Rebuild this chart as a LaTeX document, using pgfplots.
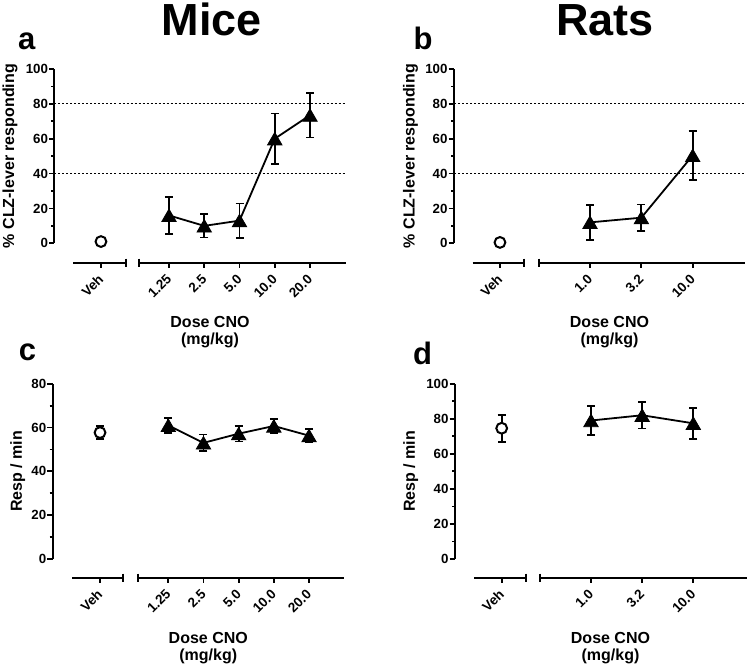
\documentclass[border=0pt]{standalone}
\usepackage{pgfplots}
\pgfplotsset{compat=1.18}
\usepackage{fontspec}
\setmainfont{Liberation Sans}

\newcommand\tkfont{\fontsize{13.3}{13.3}\selectfont\bfseries}
\newcommand\xtkfont{\fontsize{13.5}{13.5}\selectfont\bfseries}
\newcommand\labfont{\fontsize{16}{16}\selectfont\bfseries}

\pgfplotsset{
  panel/.style={
    scale only axis, clip=false,
    axis y line*=left, axis x line=none,
    ymin=0, ytick distance=20, minor y tick num=1,
    tick align=outside, major tick length=5.3pt, minor tick length=3pt,
    every tick/.style={black, line width=1.8pt},
    axis line style={line width=2pt, black},
    /pgf/number format/assume math mode=true,
    yticklabel style={font=\tkfont, inner sep=0pt, xshift=-1pt},
    ylabel style={font=\labfont, anchor=center},
  },
  ebar/.style={
    /pgfplots/error bars/y dir=both,
    /pgfplots/error bars/y explicit,
    /pgfplots/error bars/error bar style={line width=1.8pt, black, solid},
    /pgfplots/error bars/error mark options={rotate=90, mark size=4pt, line width=1.8pt, black},
  },
  dose/.style={black, line width=1.8pt, mark=triangle*, mark size=8.3pt,
    mark options={solid, fill=black, line width=0.8pt, yshift=-2pt}, ebar},
  veh/.style={black, only marks, mark=*, mark size=5.4pt,
    mark options={fill=white, draw=black, line width=2pt}},
  crit/.style={black, line width=0.8pt, dash pattern=on 2pt off 2pt, forget plot},
}

% broken x axis: offset, l1, l2, r1, r2
\newcommand\xline[5]{%
  \draw[line width=2pt] ([yshift=-#1]axis cs:#2,0) -- ([yshift=-#1]axis cs:#3,0);
  \draw[line width=2pt] ([yshift=-#1]axis cs:#4,0) -- ([yshift=-#1]axis cs:#5,0);
  \draw[line width=1.8pt] ([yshift=-#1+4pt]axis cs:#3,0) -- ([yshift=-#1-4pt]axis cs:#3,0);
  \draw[line width=1.8pt] ([yshift=-#1+4pt]axis cs:#4,0) -- ([yshift=-#1-4pt]axis cs:#4,0);
}
% tick: offset, x, label
\newcommand\xtk[3]{%
  \draw[line width=1.8pt] ([yshift=-#1]axis cs:#2,0) -- ([yshift=-#1-5.5pt]axis cs:#2,0);
  \node[rotate=45, anchor=east, inner sep=0pt, font=\xtkfont] at ([yshift=-#1-14pt]axis cs:#2,0) {#3};
}

\begin{document}
\begin{tikzpicture}
\useasboundingbox (0pt,0pt) rectangle (750pt,670pt);

% titles and panel letters
\node[anchor=base, inner sep=0pt, font=\fontsize{45}{45}\selectfont\bfseries] at (212pt,634pt) {Mice};
\node[anchor=base, inner sep=0pt, font=\fontsize{45}{45}\selectfont\bfseries] at (605pt,634pt) {Rats};
\node[anchor=base, inner sep=0pt, font=\fontsize{31}{31}\selectfont\bfseries] at (26.7pt,620pt) {a};
\node[anchor=base, inner sep=0pt, font=\fontsize{31}{31}\selectfont\bfseries] at (423pt,620pt) {b};
\node[anchor=base, inner sep=0pt, font=\fontsize{31}{31}\selectfont\bfseries] at (27.5pt,309pt) {c};
\node[anchor=base, inner sep=0pt, font=\fontsize{31}{31}\selectfont\bfseries] at (422.5pt,305pt) {d};

% x axis titles
\node[anchor=base, inner sep=0pt, font=\labfont] at (210pt,342.7pt) {Dose CNO};
\node[anchor=base, inner sep=0pt, font=\labfont] at (210pt,325.7pt) {(mg/kg)};
\node[anchor=base, inner sep=0pt, font=\labfont] at (609.5pt,342.7pt) {Dose CNO};
\node[anchor=base, inner sep=0pt, font=\labfont] at (609.5pt,325.7pt) {(mg/kg)};
\node[anchor=base, inner sep=0pt, font=\labfont] at (208.3pt,26.7pt) {Dose CNO};
\node[anchor=base, inner sep=0pt, font=\labfont] at (208.3pt,9.7pt) {(mg/kg)};
\node[anchor=base, inner sep=0pt, font=\labfont] at (610.5pt,26.7pt) {Dose CNO};
\node[anchor=base, inner sep=0pt, font=\labfont] at (610.5pt,9.7pt) {(mg/kg)};

% ---------- panel a ----------
\begin{axis}[panel, at={(54.5pt,426.7pt)}, anchor=south west,
  width=291.5pt, height=174.3pt, xmin=-2.248, xmax=6.021, ymax=100,
  ylabel={\% CLZ-lever responding},
  ylabel style={at={(axis description cs:-0.1527,0.5)}}]
\addplot[crit] coordinates {(-2.248,80) (6.021,80)};
\addplot[crit] coordinates {(-2.248,40) (6.021,40)};
\addplot[dose] table[x=x, y=y, y error=e] {
x y e
1 16 10.7
2 10 6.7
3 13 9.8
4 60 14.5
5 73.5 12.8
};
\addplot[veh] table[x=x, y=y] {
x y
-0.93 1
};
\xline{19.4pt}{-1.715}{-0.228}{0.157}{6.021}
\xtk{19.4pt}{-0.93}{Veh}
\xtk{19.4pt}{1}{1.25}
\xtk{19.4pt}{2}{2.5}
\xtk{19.4pt}{3}{5.0}
\xtk{19.4pt}{4}{10.0}
\xtk{19.4pt}{5}{20.0}
\end{axis}

% ---------- panel b ----------
\begin{axis}[panel, at={(454pt,426.7pt)}, anchor=south west,
  width=291pt, height=174.3pt, xmin=-1.648, xmax=4.018, ymax=100,
  ylabel={\% CLZ-lever responding},
  ylabel style={at={(axis description cs:-0.1495,0.5)}}]
\addplot[crit] coordinates {(-1.648,80) (4.018,80)};
\addplot[crit] coordinates {(-1.648,40) (4.018,40)};
\addplot[dose] table[x=x, y=y, y error=e] {
x y e
1 12 9.9
2 14.7 7.6
3 50.4 14.2
};
\addplot[veh] table[x=x, y=y] {
x y
-0.753 0.5
};
\xline{19.4pt}{-1.284}{-0.279}{0.0}{4.018}
\xtk{19.4pt}{-0.753}{Veh}
\xtk{19.4pt}{1}{1.0}
\xtk{19.4pt}{2}{3.2}
\xtk{19.4pt}{3}{10.0}
\end{axis}

% ---------- panel c ----------
\begin{axis}[panel, at={(52.7pt,111pt)}, anchor=south west,
  width=291.3pt, height=175.3pt, xmin=-2.286, xmax=5.994, ymax=80,
  ylabel={Resp / min},
  ylabel style={at={(axis description cs:-0.1202,0.5)}}]
\addplot[dose] table[x=x, y=y, y error=e] {
x y e
1 61 3.5
2 53 3.8
3 57.2 3.6
4 60.7 3.1
5 56.3 2.9
};
\addplot[veh, ebar] table[x=x, y=y, y error=e] {
x y e
-0.941 57.7 3.1
};
\xline{18.7pt}{-1.729}{-0.279}{0.147}{5.994}
\xtk{18.7pt}{-0.941}{Veh}
\xtk{18.7pt}{1}{1.25}
\xtk{18.7pt}{2}{2.5}
\xtk{18.7pt}{3}{5.0}
\xtk{18.7pt}{4}{10.0}
\xtk{18.7pt}{5}{20.0}
\end{axis}

% ---------- panel d ----------
\begin{axis}[panel, at={(455pt,111pt)}, anchor=south west,
  width=291.7pt, height=175.3pt, xmin=-1.659, xmax=4.044, ymax=100,
  ylabel={Resp / min},
  ylabel style={at={(axis description cs:-0.1519,0.5)}}]
\addplot[dose] table[x=x, y=y, y error=e] {
x y e
1 79 8.3
2 82 7.6
3 77.4 8.9
};
\addplot[veh, ebar] table[x=x, y=y, y error=e] {
x y e
-0.746 74.6 7.7
};
\xline{18.7pt}{-1.287}{-0.271}{0.003}{4.044}
\xtk{18.7pt}{-0.746}{Veh}
\xtk{18.7pt}{1}{1.0}
\xtk{18.7pt}{2}{3.2}
\xtk{18.7pt}{3}{10.0}
\end{axis}
\end{tikzpicture}
\end{document}
